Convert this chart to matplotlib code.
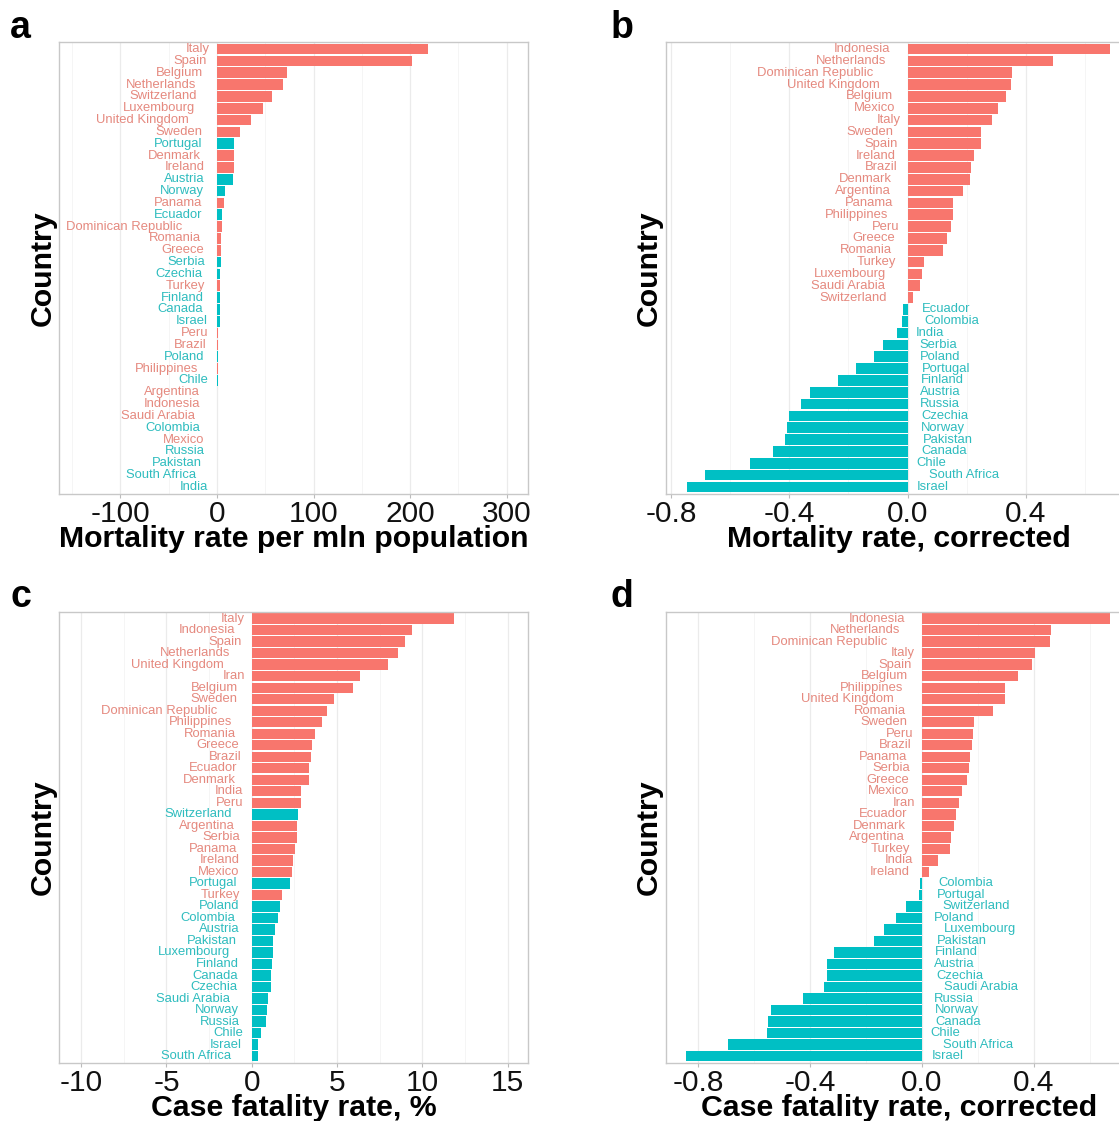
import numpy as np
import matplotlib
matplotlib.use('Agg')
import matplotlib.pyplot as plt
from matplotlib.transforms import ScaledTranslation

plt.rcParams['font.family'] = ['Liberation Sans', 'DejaVu Sans']
plt.rcParams['axes.unicode_minus'] = False

# ---------------- data ----------------
a_countries = ["Italy", "Spain", "Belgium", "Netherlands", "Switzerland", "Luxembourg",
               "United Kingdom", "Sweden", "Portugal", "Denmark", "Ireland", "Austria",
               "Norway", "Panama", "Ecuador", "Dominican Republic", "Romania", "Greece",
               "Serbia", "Czechia", "Turkey", "Finland", "Canada", "Israel", "Peru",
               "Brazil", "Poland", "Philippines", "Chile", "Argentina", "Indonesia",
               "Saudi Arabia", "Colombia", "Mexico", "Russia", "Pakistan", "South Africa",
               "India"]
a_values = [218.5, 201.9, 72.6, 68.5, 57.0, 48.1, 35.6, 23.7, 18.1, 18.0, 17.4, 16.3,
            8.5, 7.0, 5.2, 5.0, 4.5, 4.4, 3.7, 3.5, 3.3, 3.2, 3.1, 3.0, 1.2,
            1.1, 1.0, 0.9, 0.8, 0.2, 0.15, 0.12, 0.1, 0.08, 0.06, 0.05, 0.04, 0.02]

b_countries = ["Indonesia", "Netherlands", "Dominican Republic", "United Kingdom", "Belgium",
               "Mexico", "Italy", "Sweden", "Spain", "Ireland", "Brazil", "Denmark",
               "Argentina", "Panama", "Philippines", "Peru", "Greece", "Romania", "Turkey",
               "Luxembourg", "Saudi Arabia", "Switzerland", "Ecuador", "Colombia", "India",
               "Serbia", "Poland", "Portugal", "Finland", "Austria", "Russia", "Czechia",
               "Norway", "Pakistan", "Canada", "Chile", "South Africa", "Israel"]
b_values = [0.684, 0.490, 0.353, 0.348, 0.331, 0.305, 0.284, 0.248, 0.248, 0.223, 0.214,
            0.212, 0.187, 0.152, 0.152, 0.148, 0.132, 0.118, 0.055, 0.048, 0.042, 0.019,
            -0.016, -0.020, -0.036, -0.084, -0.114, -0.175, -0.235, -0.329, -0.359,
            -0.401, -0.407, -0.415, -0.455, -0.534, -0.686, -0.747]

c_countries = ["Italy", "Indonesia", "Spain", "Netherlands", "United Kingdom", "Iran",
               "Belgium", "Sweden", "Dominican Republic", "Philippines", "Romania", "Greece",
               "Brazil", "Ecuador", "Denmark", "India", "Peru", "Switzerland", "Argentina",
               "Serbia", "Panama", "Ireland", "Mexico", "Portugal", "Turkey", "Poland",
               "Colombia", "Austria", "Pakistan", "Luxembourg", "Finland", "Canada",
               "Czechia", "Saudi Arabia", "Norway", "Russia", "Chile", "Israel",
               "South Africa"]
c_values = [11.89, 9.37, 9.01, 8.60, 7.99, 6.37, 5.91, 4.84, 4.44, 4.15, 3.73, 3.54,
            3.50, 3.38, 3.33, 2.88, 2.87, 2.70, 2.64, 2.63, 2.52, 2.43, 2.37, 2.26, 1.78,
            1.66, 1.55, 1.34, 1.26, 1.22, 1.17, 1.15, 1.11, 0.93, 0.92, 0.86, 0.52, 0.38,
            0.34]

d_countries = ["Indonesia", "Netherlands", "Dominican Republic", "Italy", "Spain", "Belgium",
               "Philippines", "United Kingdom", "Romania", "Sweden", "Peru", "Brazil",
               "Panama", "Serbia", "Greece", "Mexico", "Iran", "Ecuador", "Denmark",
               "Argentina", "Turkey", "India", "Ireland", "Colombia", "Portugal",
               "Switzerland", "Poland", "Luxembourg", "Pakistan", "Finland", "Austria",
               "Czechia", "Saudi Arabia", "Russia", "Norway", "Canada", "Chile",
               "South Africa", "Israel"]
d_values = [0.673, 0.461, 0.457, 0.403, 0.394, 0.344, 0.298, 0.296, 0.254, 0.187, 0.182,
            0.181, 0.173, 0.168, 0.161, 0.144, 0.132, 0.121, 0.115, 0.104, 0.102, 0.056,
            0.027, -0.006, -0.009, -0.057, -0.093, -0.136, -0.172, -0.315, -0.339,
            -0.339, -0.350, -0.425, -0.538, -0.548, -0.553, -0.694, -0.842]

a_ticks = [-100, 0, 100, 200, 300]
b_ticks = [-0.8, -0.4, 0.0, 0.4]
c_ticks = [-10, -5, 0, 5, 10, 15]
d_ticks = [-0.8, -0.4, 0.0, 0.4]
a_ticklabels = ["-100", "0", "100", "200", "300"]
b_ticklabels = ["-0.8", "-0.4", "0.0", "0.4"]
c_ticklabels = ["-10", "-5", "0", "5", "10", "15"]
d_ticklabels = ["-0.8", "-0.4", "0.0", "0.4"]

# ---------------- style ----------------
RED, TEAL = '#F8766D', '#00BFC4'
RED_TXT, TEAL_TXT = '#E5897F', '#2EBCBE'

W, H = 1119, 1121
fig = plt.figure(figsize=(W / 100, H / 100), dpi=100)


def px_axes(l, t, r, b):
    return fig.add_axes([l / W, 1 - b / H, (r - l) / W, (b - t) / H])


all_texts = []


def panel(ax, names, values, sign_ref, xlim, ticks, ticklabels, xlabel, box):
    l, t, r, b = box
    wpx, hpx = r - l, b - t
    n = len(names)
    y = np.arange(n)
    ref = dict(zip(sign_ref[0], sign_ref[1]))
    cols = [RED if ref[nm] > 0 else TEAL for nm in names]
    ax.barh(y, values, height=0.9, color=cols, zorder=2)
    ax.set_xticks(ticks)
    ax.set_xticklabels(ticklabels)
    step = ticks[1] - ticks[0]
    minor = [ticks[0] - step / 2] + [tk + step / 2 for tk in ticks]
    ax.set_xticks(minor, minor=True)
    ax.set_yticks([])
    ax.set_ylim(n - 1 + 0.6, -0.6)
    ax.set_xlim(*xlim)
    ax.grid(axis='x', which='major', color='#EBEBEB', lw=0.9, zorder=0)
    ax.grid(axis='x', which='minor', color='#F5F5F5', lw=0.7, zorder=0)
    ax.set_axisbelow(True)
    ax.tick_params(axis='x', which='major', labelsize=21.5, length=3, width=0.8,
                   color='#BBBBBB', pad=1.5, labelcolor='#111111')
    ax.tick_params(axis='x', which='minor', length=0)
    for s in ax.spines.values():
        s.set_color('#C8C8C8')
        s.set_linewidth(1.0)
    ax.set_xlabel(xlabel, fontsize=21.8, fontweight='bold')
    ax.xaxis.set_label_coords(0.5, -45 / hpx)
    ax.xaxis.label.set_va('center')
    ax.set_ylabel('Country', fontsize=21.8, fontweight='bold')
    ax.yaxis.set_label_coords(-16.5 / wpx, 0.5)
    ax.yaxis.label.set_va('center')
    for yi, nm, v, c in zip(y, names, values, cols):
        tc = RED_TXT if c == RED else TEAL_TXT
        side = 1 if v >= 0 else -1
        txt = ax.text(0, yi, nm, ha='right' if side > 0 else 'left', va='center',
                      fontsize=9.4, color=tc, zorder=3)
        all_texts.append((txt, side))


box_a = (59, 42, 528, 494)
box_b = (665.5, 42, 1132, 494)
box_c = (59, 611.7, 528, 1063)
box_d = (665.5, 611.7, 1132, 1063)

ax_a = px_axes(*box_a)
panel(ax_a, a_countries, a_values, (b_countries, b_values), (-163.5, 322),
      a_ticks, a_ticklabels, 'Mortality rate per mln population', box_a)
ax_b = px_axes(*box_b)
panel(ax_b, b_countries, b_values, (b_countries, b_values), (-0.818, 0.758),
      b_ticks, b_ticklabels, 'Mortality rate, corrected', box_b)
ax_c = px_axes(*box_c)
panel(ax_c, c_countries, c_values, (d_countries, d_values), (-11.3, 16.2),
      c_ticks, c_ticklabels, 'Case fatality rate, %', box_c)
ax_d = px_axes(*box_d)
panel(ax_d, d_countries, d_values, (d_countries, d_values), (-0.916, 0.751),
      d_ticks, d_ticklabels, 'Case fatality rate, corrected', box_d)

# ggplot-like hjust 1.3 / -0.3 : shift each label by 30% of its width away from zero
fig.canvas.draw()
renderer = fig.canvas.get_renderer()
for txt, side in all_texts:
    w = txt.get_window_extent(renderer).width
    dx = -0.3 * w if side > 0 else 0.3 * w
    txt.set_transform(txt.get_transform() + ScaledTranslation(dx / fig.dpi, 0, fig.dpi_scale_trans))

for letter, x, yb in [('a', 10, 38), ('b', 611, 38), ('c', 10, 607), ('d', 611, 607)]:
    fig.text(x / W, 1 - yb / H, letter, fontsize=27, fontweight='bold', va='baseline',
             ha='left', color='black')

fig.savefig('out.png', dpi=100)
